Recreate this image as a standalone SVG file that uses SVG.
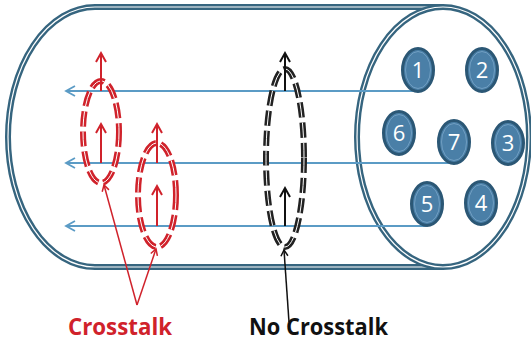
<svg xmlns="http://www.w3.org/2000/svg" width="531" height="344" viewBox="0 0 531 344">
  <style>
    .shell { fill: none; stroke: #36657f; stroke-width: 6; }
    .shell-in { fill: none; stroke: #ffffff; stroke-width: 1.2; }
    .wire { fill: none; stroke: #5b9bc5; stroke-width: 2; }
    .core { fill: #4a7fa7; stroke: #2b5775; stroke-width: 3; }
    .core-in { fill: none; stroke: #7aa6c8; stroke-width: 0.8; }
    .num { font-family: "Open Sans", "Liberation Sans", sans-serif; font-size: 22px; fill: #ffffff; text-anchor: middle; }
    .loop-red { fill: none; stroke: #d0222b; stroke-width: 6; stroke-dasharray: 15 5; }
    .loop-black { fill: none; stroke: #222222; stroke-width: 6; stroke-dasharray: 15 5; }
    .loop-in { fill: none; stroke: #ffffff; stroke-width: 1; stroke-dasharray: 15 5; }
    .field-red { fill: none; stroke: #d0222b; stroke-width: 2; }
    .field-black { fill: none; stroke: #111111; stroke-width: 2; }
    .ptr-red { fill: none; stroke: #d0222b; stroke-width: 1.5; }
    .ptr-black { fill: none; stroke: #111111; stroke-width: 1.5; }
    .label { font-family: "Open Sans", "Liberation Sans", sans-serif; font-size: 23px; font-weight: 700; }
  </style>
  <defs>
    <marker id="ah-blue" markerWidth="14" markerHeight="14" refX="11" refY="7" orient="auto" markerUnits="userSpaceOnUse">
      <path d="M2,2 L11,7 L2,12" fill="none" stroke="#5b9bc5" stroke-width="1.8"/>
    </marker>
    <marker id="ah-red" markerWidth="14" markerHeight="14" refX="11" refY="7" orient="auto" markerUnits="userSpaceOnUse">
      <path d="M2,2 L11,7 L2,12" fill="none" stroke="#d0222b" stroke-width="2"/>
    </marker>
    <marker id="ah-black" markerWidth="14" markerHeight="14" refX="11" refY="7" orient="auto" markerUnits="userSpaceOnUse">
      <path d="M2,2 L11,7 L2,12" fill="none" stroke="#111111" stroke-width="2"/>
    </marker>
    <marker id="ah-red-s" markerWidth="10" markerHeight="10" refX="8" refY="5" orient="auto" markerUnits="userSpaceOnUse">
      <path d="M2,1.5 L8,5 L2,8.5" fill="none" stroke="#d0222b" stroke-width="1.5"/>
    </marker>
    <marker id="ah-black-s" markerWidth="10" markerHeight="10" refX="8" refY="5" orient="auto" markerUnits="userSpaceOnUse">
      <path d="M2,1.5 L8,5 L2,8.5" fill="none" stroke="#111111" stroke-width="1.5"/>
    </marker>
  </defs>

  <!-- cable body: rounded left cap, open face on the right -->
  <g id="cable">
    <path class="shell" d="M443,7 L95,7 A87 130 0 0 0 95,267 L443,267"/>
    <path class="shell-in" d="M443,7 L95,7 A87 130 0 0 0 95,267 L443,267"/>
    <ellipse class="shell" cx="443" cy="137" rx="86" ry="130"/>
    <ellipse class="shell-in" cx="443" cy="137" rx="86" ry="130"/>
  </g>

  <!-- signal wires running along the cable -->
  <g id="connectors">
    <line class="wire" x1="417" y1="91" x2="66" y2="91" marker-end="url(#ah-blue)"/>
    <line class="wire" x1="453" y1="163" x2="66" y2="163" marker-end="url(#ah-blue)"/>
    <line class="wire" x1="426" y1="226" x2="66" y2="226" marker-end="url(#ah-blue)"/>
    <line class="ptr-red" x1="137" y1="305" x2="104" y2="185" marker-end="url(#ah-red-s)"/>
    <line class="ptr-red" x1="137" y1="305" x2="156" y2="249" marker-end="url(#ah-red-s)"/>
    <line class="ptr-black" x1="289" y1="322" x2="284" y2="250" marker-end="url(#ah-black-s)"/>
  </g>

  <!-- conductors on the cable face -->
  <g id="core-1"><ellipse class="core" cx="418" cy="70" rx="15.5" ry="21.5"/><ellipse class="core-in" cx="418" cy="70" rx="12.5" ry="18.5"/><text class="num" x="418" y="78">1</text></g>
  <g id="core-2"><ellipse class="core" cx="482" cy="70" rx="15.5" ry="21.5"/><ellipse class="core-in" cx="482" cy="70" rx="12.5" ry="18.5"/><text class="num" x="482" y="78">2</text></g>
  <g id="core-6"><ellipse class="core" cx="399" cy="133" rx="15.5" ry="21.5"/><ellipse class="core-in" cx="399" cy="133" rx="12.5" ry="18.5"/><text class="num" x="399" y="141">6</text></g>
  <g id="core-7"><ellipse class="core" cx="454" cy="142" rx="15.5" ry="21.5"/><ellipse class="core-in" cx="454" cy="142" rx="12.5" ry="18.5"/><text class="num" x="454" y="150">7</text></g>
  <g id="core-3"><ellipse class="core" cx="508" cy="143" rx="15.5" ry="21.5"/><ellipse class="core-in" cx="508" cy="143" rx="12.5" ry="18.5"/><text class="num" x="508" y="151">3</text></g>
  <g id="core-5"><ellipse class="core" cx="427" cy="204" rx="15.5" ry="21.5"/><ellipse class="core-in" cx="427" cy="204" rx="12.5" ry="18.5"/><text class="num" x="427" y="212">5</text></g>
  <g id="core-4"><ellipse class="core" cx="481" cy="203" rx="15.5" ry="21.5"/><ellipse class="core-in" cx="481" cy="203" rx="12.5" ry="18.5"/><text class="num" x="481" y="211">4</text></g>

  <!-- coupled field loops -->
  <g id="loop-a">
    <ellipse class="loop-red" cx="101" cy="132" rx="18" ry="51"/>
    <ellipse class="loop-in" cx="101" cy="132" rx="18" ry="51"/>
    <line class="field-red" x1="101" y1="91" x2="101" y2="53" marker-end="url(#ah-red)"/>
    <line class="field-red" x1="101" y1="163" x2="101" y2="124" marker-end="url(#ah-red)"/>
  </g>
  <g id="loop-b">
    <ellipse class="loop-red" cx="157" cy="195" rx="19" ry="52"/>
    <ellipse class="loop-in" cx="157" cy="195" rx="19" ry="52"/>
    <line class="field-red" x1="157" y1="163" x2="157" y2="124" marker-end="url(#ah-red)"/>
    <line class="field-red" x1="157" y1="226" x2="157" y2="186" marker-end="url(#ah-red)"/>
  </g>
  <g id="loop-c">
    <ellipse class="loop-black" cx="285" cy="158" rx="19" ry="89"/>
    <ellipse class="loop-in" cx="285" cy="158" rx="19" ry="89"/>
    <line class="field-black" x1="285" y1="91" x2="285" y2="53" marker-end="url(#ah-black)"/>
    <line class="field-black" x1="285" y1="226" x2="285" y2="188" marker-end="url(#ah-black)"/>
  </g>

  <!-- labels -->
  <g id="label-crosstalk"><text class="label" x="68" y="335" fill="#d0222b" textLength="104" lengthAdjust="spacingAndGlyphs">Crosstalk</text></g>
  <g id="label-no-crosstalk"><text class="label" x="249" y="335" fill="#111111" textLength="139" lengthAdjust="spacingAndGlyphs">No Crosstalk</text></g>
</svg>
